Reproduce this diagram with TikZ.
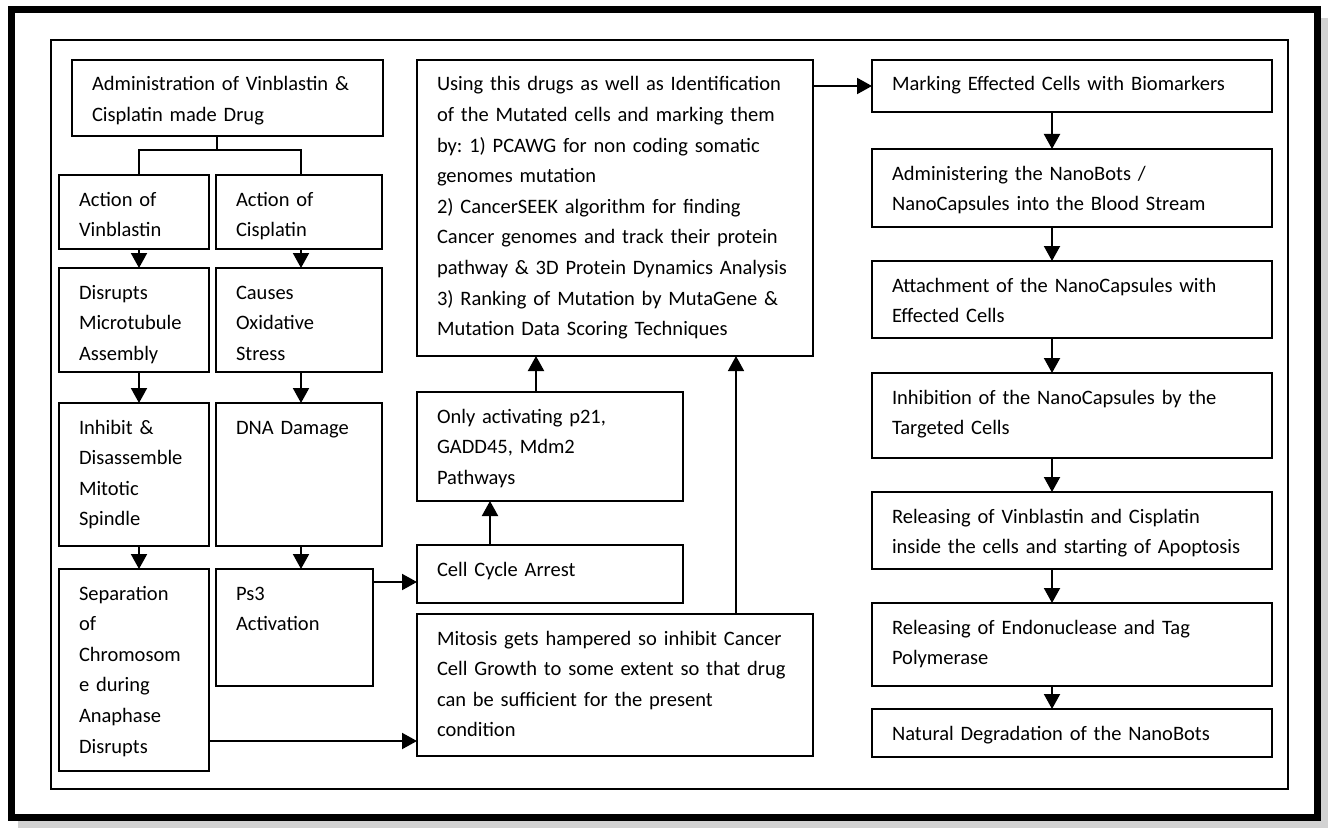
\documentclass[tikz,border=0pt]{standalone}
\usepackage{fontspec}
\setmainfont{Carlito}
\frenchspacing
\usetikzlibrary{arrows.meta}
\tikzset{box/.style = {draw, line width=2.8pt, anchor=north west, outer sep=0pt,
                       inner xsep=20pt, inner ysep=0pt, text height=31pt,
                       align=left, font=\fontsize{20.5pt}{30.6pt}\selectfont}}
\tikzset{arr/.style = {line width=2pt, -{Triangle[width=16pt, length=15pt]}}}
\tikzset{link/.style = {line width=2pt}}

\begin{document}
\begin{tikzpicture}[x=1pt, y=-1pt]
      \useasboundingbox (0, 0) rectangle (1338, 832);
      \fill [white] (0, 0) rectangle (1338, 832);

      % frames
      \draw [gray!35, line width=8pt] (1324, 18) -- (1324, 824) -- (18, 824);
      \draw [line width=7pt] (11, 10) rectangle (1317, 817);
      \draw [line width=1.5pt] (51, 40) rectangle (1288, 789);

      % left columns
      \node (adm) at (72, 60) [box, text width=271pt, text depth=45pt] {Administration of Vinblastin \&\\Cisplatin made Drug};
      \node (actv) at (59, 175) [box, text width=110pt, text depth=43pt] {Action of\\Vinblastin};
      \node (actc) at (216, 175) [box, text width=126pt, text depth=43pt] {Action of\\Cisplatin};
      \node (disr) at (59, 268) [box, text width=110pt, text depth=73pt] {Disrupts\\Microtubule\\Assembly};
      \node (caus) at (216, 268) [box, text width=126pt, text depth=73pt] {Causes\\Oxidative\\Stress};
      \node (inhb) at (59, 403) [box, text width=110pt, text depth=112pt] {Inhibit \&\\Disassemble\\Mitotic\\Spindle};
      \node (dna) at (216, 403) [box, text width=126pt, text depth=112pt] {DNA Damage};
      \node (sepr) at (59, 569) [box, text width=110pt, text depth=171pt] {Separation\\of\\Chromosom\\e during\\Anaphase\\Disrupts};
      \node (ps3) at (216, 569) [box, text width=117pt, text depth=86pt] {Ps3\\Activation};

      % middle column
      \node (using) at (417, 60) [box, text width=356pt, text depth=265pt] {Using this drugs as well as Identification\\of the Mutated cells and marking them\\by: 1) PCAWG for non coding somatic\\genomes mutation\\2) CancerSEEK algorithm for finding\\Cancer genomes and track their protein\\pathway \& 3D Protein Dynamics Analysis\\3) Ranking of Mutation by MutaGene \&\\Mutation Data Scoring Techniques};
      \node (only) at (417, 392) [box, text width=226pt, text depth=78pt] {Only activating p21,\\GADD45, Mdm2\\Pathways};
      \node (cca) at (417, 545) [box, text width=226pt, text depth=27pt] {Cell Cycle Arrest};
      \node (mito) at (417, 614) [box, line width=2pt, text width=356pt, text depth=111pt] {Mitosis gets hampered so inhibit Cancer\\Cell Growth to some extent so that drug\\can be sufficient for the present\\condition};

      % right column
      \node (mark) at (872, 60) [box, text width=360pt, text depth=21pt] {Marking Effected Cells with Biomarkers};
      \node (admn) at (872, 149) [box, text width=360pt, text depth=47pt] {Administering the NanoBots /\\NanoCapsules into the Blood Stream};
      \node (atch) at (872, 261) [box, text width=360pt, text depth=46pt] {Attachment of the NanoCapsules with\\Effected Cells};
      \node (inhi) at (872, 373) [box, text width=360pt, text depth=54pt] {Inhibition of the NanoCapsules by the\\Targeted Cells};
      \node (relv) at (872, 492) [box, text width=360pt, text depth=46pt] {Releasing of Vinblastin and Cisplatin\\inside the cells and starting of Apoptosis};
      \node (rele) at (872, 603) [box, text width=360pt, text depth=52pt] {Releasing of Endonuclease and Tag\\Polymerase};
      \node (natu) at (872, 709) [box, text width=360pt, text depth=17pt] {Natural Degradation of the NanoBots};

      % lanes for the connectors
      \coordinate (split) at (217, 150);
      \coordinate (lcol) at (139, 0);
      \coordinate (ccol) at (301, 0);
      \coordinate (rcol) at (1052, 0);
      \coordinate (m1) at (490, 0);
      \coordinate (m2) at (536, 0);
      \coordinate (m3) at (736, 0);
      \coordinate (crow) at (0, 582);
      \coordinate (srow) at (0, 741);

      \draw [link] (adm.south -| split) -- (split);
      \draw [link] (actv.north -| lcol) |- (split) -| (actc.north -| ccol);

      \draw [arr] (actv.south -| lcol) -- (disr.north -| lcol);
      \draw [arr] (disr.south -| lcol) -- (inhb.north -| lcol);
      \draw [arr] (inhb.south -| lcol) -- (sepr.north -| lcol);
      \draw [arr] (actc.south -| ccol) -- (caus.north -| ccol);
      \draw [arr] (caus.south -| ccol) -- (dna.north -| ccol);
      \draw [arr] (dna.south -| ccol) -- (ps3.north -| ccol);

      \draw [arr] (ps3.east |- crow) -- (cca.west |- crow);
      \draw [arr] (sepr.east |- srow) -- (mito.west |- srow);
      \draw [arr] (cca.north -| m1) -- (only.south -| m1);
      \draw [arr] (only.north -| m2) -- (using.south -| m2);
      \draw [arr, line width=1.5pt] (mito.north -| m3) -- (using.south -| m3);
      \draw [arr] (using.east |- mark.west) -- (mark.west);

      \draw [arr] (mark.south -| rcol) -- (admn.north -| rcol);
      \draw [arr] (admn.south -| rcol) -- (atch.north -| rcol);
      \draw [arr] (atch.south -| rcol) -- (inhi.north -| rcol);
      \draw [arr] (inhi.south -| rcol) -- (relv.north -| rcol);
      \draw [arr] (relv.south -| rcol) -- (rele.north -| rcol);
      \draw [arr] (rele.south -| rcol) -- (natu.north -| rcol);
    \end{tikzpicture}
\end{document}
